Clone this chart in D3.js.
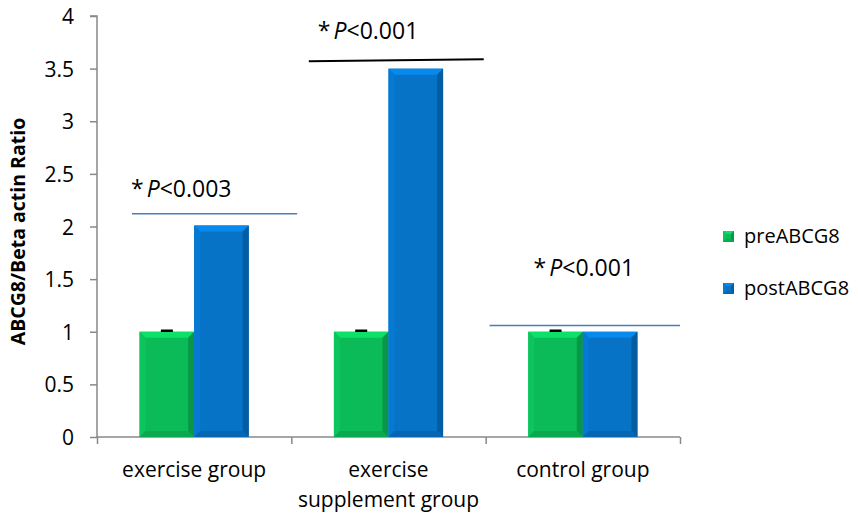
<!DOCTYPE html>
<html><head><meta charset="utf-8">
<script src="https://cdn.jsdelivr.net/npm/d3@7"></script>
<style>
body{margin:0;background:#fff}
text{font-family:"Open Sans","Noto Sans",sans-serif;fill:#000}
</style></head><body>
<svg id="chart" width="858" height="513"></svg>
<script>
// ABCG8 pre/post bar chart
const CATEGORIES = [["exercise group"], ["exercise", "supplement group"], ["control group"]];
const SERIES = ["preABCG8", "postABCG8"];
const PRE = [1, 1, 1];
const POST = [2.01, 3.5, 1];
const Y_TICKS = [0, 0.5, 1, 1.5, 2, 2.5, 3, 3.5, 4];
const ANNOT = [
  { label: "0.003", y: 2.12, x0: 0.18, x1: 1.03, colour: "#4a7ebb" },
  { label: "0.001", y: 3.58, x0: 1.09, x1: 1.99, colour: "#000" },
  { label: "0.001", y: 1.06, x0: 2.02, x1: 3.0, colour: "#4a7ebb" }
];
const COLOURS = { preABCG8: "#0bbb58", postABCG8: "#0673c7" };

const svg = d3.select("#chart");
const m = { left: 97, right: 178, top: 16, bottom: 76 };
const W = 858, H = 513;

const x = d3.scaleBand().domain(d3.range(CATEGORIES.length)).range([m.left, W - m.right]).paddingInner(0).paddingOuter(0);
const xs = d3.scaleBand().domain(SERIES).range([0, x.bandwidth()]).paddingInner(0).paddingOuter(0.78);
const y = d3.scaleLinear().domain([0, 4]).range([H - m.bottom, m.top]);
const xc = d3.scaleLinear().domain([0, CATEGORIES.length]).range([m.left, W - m.right]);

// axes
const yAxis = svg.append("g").attr("transform", `translate(${m.left},0)`)
  .call(d3.axisLeft(y).tickValues(Y_TICKS).tickSize(7).tickPadding(16).tickFormat(d3.format("")));
yAxis.selectAll("text").style("font-size", "21px").attr("dy", "0.36em");
yAxis.selectAll("line,path").attr("stroke", "#888").attr("stroke-width", 1.5);
yAxis.select(".domain").attr("d", `M-7,${y(4)}H0V${y(0)}`);

const xAxis = svg.append("g").attr("transform", `translate(0,${y(0)})`)
  .call(d3.axisBottom(xc).tickValues(d3.range(CATEGORIES.length + 1)).tickSize(7).tickFormat(""));
xAxis.selectAll("line,path").attr("stroke", "#888").attr("stroke-width", 1.5);
xAxis.select(".domain").attr("d", `M${m.left},0H${W - m.right}`);

// category labels
CATEGORIES.forEach((lines, i) => {
  const t = svg.append("text").attr("x", x(i) + x.bandwidth() / 2).attr("y", y(0) + 40)
    .attr("text-anchor", "middle").style("font-size", "21px");
  lines.forEach((l, j) => t.append("tspan").attr("x", x(i) + x.bandwidth() / 2).attr("dy", j ? 30 : 0).text(l));
});

// y title
svg.append("text").attr("transform", `translate(25,${(y(0) + y(4)) / 2 + 5}) rotate(-90)`)
  .attr("text-anchor", "middle").style("font-size", "19.5px").style("font-weight", "bold")
  .text("ABCG8/Beta actin Ratio");

// bevelled bars
function bevelBar(g, bx, by, bw, bh, base, b = 6) {
  const c = d3.color(base);
  g.append("rect").attr("x", bx).attr("y", by).attr("width", bw).attr("height", bh).attr("fill", base);
  g.append("path").attr("d", `M${bx},${by}H${bx + bw}L${bx + bw - b},${by + b}H${bx + b}Z`).attr("fill", c.brighter(0.5));
  g.append("path").attr("d", `M${bx},${by}L${bx + b},${by + b}V${by + bh - b}L${bx},${by + bh}Z`).attr("fill", c.brighter(0.15));
  g.append("path").attr("d", `M${bx + bw},${by}L${bx + bw - b},${by + b}V${by + bh - b}L${bx + bw},${by + bh}Z`).attr("fill", c.darker(0.6));
  g.append("path").attr("d", `M${bx},${by + bh}L${bx + b},${by + bh - b}H${bx + bw - b}L${bx + bw},${by + bh}Z`).attr("fill", c.darker(0.3));
}
const barsG = svg.append("g");
const data = [PRE, POST];
SERIES.forEach((s, si) => {
  data[si].forEach((v, i) => {
    const bx = x(i) + xs(s);
    bevelBar(barsG, bx, y(v), xs.bandwidth(), y(0) - y(v), COLOURS[s]);
  });
});
// error caps on pre bars
PRE.forEach((v, i) => {
  const cx = x(i) + xs("preABCG8") + xs.bandwidth() / 2;
  barsG.append("line").attr("x1", cx - 6).attr("x2", cx + 6).attr("y1", y(v) - 1).attr("y2", y(v) - 1)
    .attr("stroke", "#000").attr("stroke-width", 2.5);
});

// significance annotations
const TEXT_DX = [-1, 9, 44];
const TEXT_DY = [-17, -21, -49];
ANNOT.forEach((a, i) => {
  const ly = y(a.y);
  svg.append("line").attr("x1", xc(a.x0)).attr("x2", xc(a.x1))
    .attr("y1", i === 1 ? ly + 1 : ly).attr("y2", i === 1 ? ly - 1 : ly)
    .attr("stroke", a.colour).attr("stroke-width", i === 1 ? 2 : 1.5);
  const t = svg.append("text").attr("x", xc(a.x0) + TEXT_DX[i]).attr("y", ly + TEXT_DY[i])
    .style("font-size", "23px");
  t.append("tspan").text("*");
  t.append("tspan").attr("dx", 3).style("font-style", "italic").text("P");
  t.append("tspan").text("<" + a.label);
});

// legend
const lg = svg.append("g").attr("transform", "translate(723,231)");
SERIES.forEach((s, i) => {
  const row = lg.append("g").attr("transform", `translate(0,${i * 52})`);
  bevelBar(row, 0, 0, 11, 11, COLOURS[s], 3);
  row.append("text").attr("x", 21).attr("y", 12).style("font-size", "20px").text(s);
});
</script>
</body></html>
